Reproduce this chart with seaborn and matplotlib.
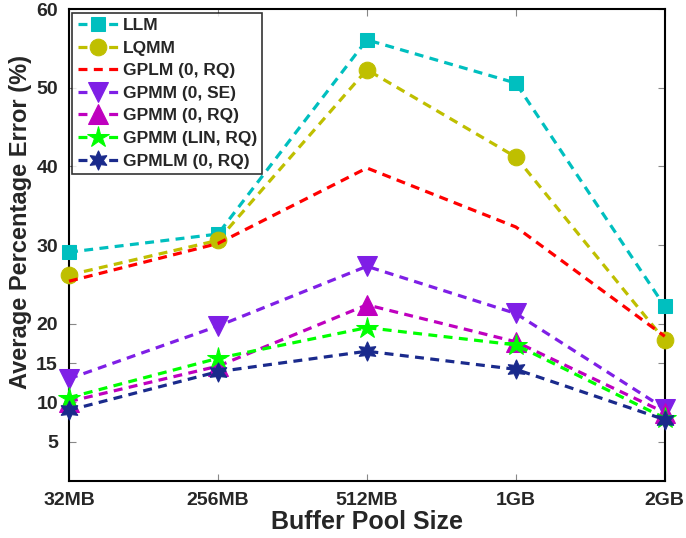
import matplotlib
matplotlib.use("Agg")
import matplotlib.pyplot as plt
import pandas as pd
import seaborn as sns

sizes = ["32MB", "256MB", "512MB", "1GB", "2GB"]

llm = [29.1, 31.4, 56.1, 50.6, 22.2]
lqmm = [26.2, 30.6, 52.3, 41.2, 17.9]
gplm = [25.4, 30.2, 39.8, 32.3, 18.4]
gpmm_se = [13.0, 19.7, 27.3, 21.3, 9.2]
gpmm_rq = [10.1, 14.6, 22.4, 17.7, 8.7]
gpmm_lin_rq = [10.6, 15.6, 19.5, 17.3, 8.0]
gpmlm = [9.0, 13.9, 16.5, 14.2, 7.8]

yticks = [5, 10, 15, 20, 30, 40, 50, 60]

series = [
    ("LLM", llm, "#00BFBF", "s", 10),
    ("LQMM", lqmm, "#BFBF00", "o", 12),
    ("GPLM (0, RQ)", gplm, "#FF0000", None, 0),
    ("GPMM (0, SE)", gpmm_se, "#7F1FE6", "v", 14),
    ("GPMM (0, RQ)", gpmm_rq, "#BF00BF", "^", 14),
    ("GPMM (LIN, RQ)", gpmm_lin_rq, "#00FF00", "*", 16),
    ("GPMLM (0, RQ)", gpmlm, "#1A2A8C", (6, 1, 0), 14),
]

rows = []
for name, vals, *_ in series:
    for s, v in zip(sizes, vals):
        rows.append({"size": s, "error": v, "method": name})
df = pd.DataFrame(rows)

sns.set_style("ticks")
plt.rcParams["font.family"] = ["Liberation Sans", "DejaVu Sans"]
plt.rcParams["font.weight"] = "bold"

fig = plt.figure(figsize=(6.86, 5.38), dpi=100)
ax = fig.add_axes([0.1006, 0.106, 0.8684, 0.877])

for name, vals, color, marker, ms in series:
    sub = df[df["method"] == name]
    sns.lineplot(data=sub, x="size", y="error", ax=ax, color=color,
                 marker=marker, markersize=ms, markeredgecolor=color,
                 linewidth=2.3, linestyle=(0, (2.8, 2.0)), label=name,
                 clip_on=False, zorder=3)

ax.set_xlim(0, 4)
ax.set_ylim(0, 60)
ax.set_yticks(yticks)
ax.set_xlabel("Buffer Pool Size", fontsize=18, fontweight="bold", labelpad=1)
ax.set_ylabel("Average Percentage Error (%)", fontsize=17, fontweight="bold")
ax.yaxis.set_label_coords(-0.062, 0.549)
ax.tick_params(direction="in", length=5, color="#888888", top=True, right=True,
               labelsize=14, pad=8)
for lbl in ax.get_xticklabels() + ax.get_yticklabels():
    lbl.set_fontweight("bold")
for sp in ax.spines.values():
    sp.set_linewidth(1.5)
    sp.set_color("black")

leg = ax.legend(loc="upper left", fontsize=12.5, frameon=True, fancybox=False,
                edgecolor="black", handlelength=2.3, handletextpad=0.3,
                labelspacing=0.43, borderpad=0.3, borderaxespad=0.2)
leg.get_frame().set_linewidth(1.2)
for t in leg.get_texts():
    t.set_fontweight("bold")

fig.savefig("out.png", dpi=100)
